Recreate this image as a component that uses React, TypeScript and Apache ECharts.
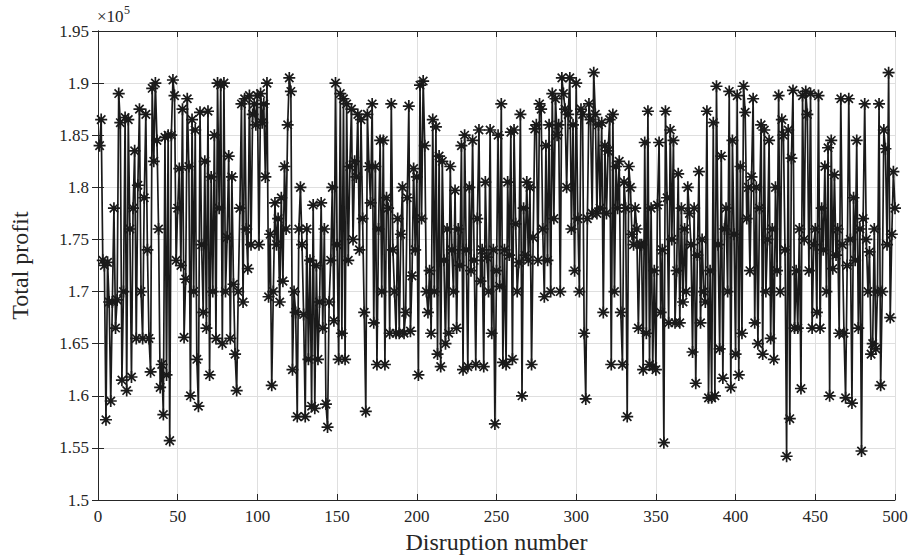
import React, { useEffect, useRef } from "react";
import * as echarts from "echarts";

// Total profit (in units of 1e5), disruption numbers 1..500
const profit001to050 = [
  1.840,1.865,1.730,1.725,1.577,1.728,1.690,1.595,1.690,1.780,
  1.665,1.692,1.890,1.862,1.615,1.700,1.867,1.605,1.865,1.760,
  1.618,1.780,1.835,1.655,1.802,1.875,1.700,1.655,1.790,1.870,
  1.740,1.655,1.623,1.895,1.825,1.900,1.845,1.760,1.608,1.630,
  1.582,1.848,1.620,1.850,1.557,1.850,1.903,1.888,1.730,1.780,
];
const profit051to100 = [
  1.818,1.725,1.875,1.656,1.712,1.885,1.820,1.600,1.865,1.700,
  1.855,1.635,1.590,1.872,1.745,1.680,1.825,1.665,1.873,1.620,
  1.810,1.700,1.850,1.655,1.900,1.780,1.898,1.650,1.900,1.700,
  1.752,1.830,1.655,1.810,1.707,1.640,1.605,1.700,1.780,1.880,
  1.690,1.885,1.760,1.722,1.888,1.745,1.870,1.880,1.860,1.888,
];
const profit101to150 = [
  1.745,1.890,1.862,1.880,1.810,1.900,1.695,1.755,1.610,1.700,
  1.785,1.745,1.770,1.690,1.790,1.710,1.820,1.760,1.860,1.905,
  1.892,1.625,1.700,1.680,1.580,1.760,1.800,1.745,1.678,1.580,
  1.760,1.635,1.730,1.590,1.783,1.588,1.725,1.635,1.690,1.785,
  1.665,1.760,1.592,1.570,1.690,1.730,1.800,1.672,1.900,1.745,
];
const profit151to200 = [
  1.635,1.890,1.660,1.885,1.635,1.880,1.730,1.820,1.875,1.750,
  1.825,1.810,1.870,1.740,1.865,1.770,1.680,1.585,1.870,1.820,
  1.785,1.880,1.670,1.820,1.630,1.760,1.845,1.700,1.845,1.630,
  1.790,1.780,1.660,1.880,1.740,1.700,1.660,1.770,1.660,1.755,
  1.800,1.660,1.680,1.790,1.878,1.662,1.715,1.818,1.740,1.810,
];
const profit201to250 = [
  1.620,1.898,1.770,1.902,1.840,1.700,1.680,1.720,1.660,1.865,
  1.700,1.858,1.640,1.830,1.628,1.825,1.730,1.650,1.760,1.660,
  1.820,1.740,1.700,1.797,1.665,1.760,1.725,1.840,1.625,1.850,
  1.740,1.628,1.800,1.720,1.845,1.730,1.630,1.770,1.855,1.710,
  1.740,1.628,1.805,1.733,1.700,1.855,1.660,1.740,1.573,1.720,
];
const profit251to300 = [
  1.850,1.705,1.880,1.632,1.740,1.630,1.805,1.735,1.853,1.635,
  1.855,1.765,1.700,1.728,1.870,1.600,1.780,1.735,1.805,1.730,
  1.800,1.630,1.752,1.856,1.860,1.730,1.880,1.875,1.760,1.695,
  1.840,1.730,1.860,1.700,1.890,1.770,1.885,1.850,1.860,1.700,
  1.905,1.890,1.875,1.800,1.870,1.905,1.760,1.860,1.720,1.900,
];
const profit301to350 = [
  1.770,1.700,1.875,1.870,1.660,1.597,1.770,1.880,1.865,1.775,
  1.910,1.870,1.775,1.860,1.780,1.862,1.680,1.840,1.775,1.835,
  1.865,1.630,1.870,1.700,1.820,1.780,1.825,1.680,1.630,1.805,
  1.780,1.580,1.820,1.800,1.755,1.745,1.780,1.760,1.665,1.745,
  1.745,1.625,1.843,1.660,1.873,1.630,1.780,1.628,1.720,1.625,
];
const profit351to400 = [
  1.783,1.843,1.680,1.740,1.555,1.873,1.790,1.670,1.855,1.750,
  1.845,1.670,1.720,1.813,1.670,1.780,1.690,1.760,1.700,1.800,
  1.775,1.745,1.642,1.780,1.612,1.735,1.815,1.670,1.750,1.700,
  1.690,1.873,1.598,1.720,1.598,1.862,1.600,1.897,1.745,1.645,
  1.830,1.617,1.760,1.780,1.700,1.892,1.608,1.845,1.755,1.640,
];
const profit401to450 = [
  1.888,1.620,1.820,1.660,1.897,1.872,1.770,1.800,1.720,1.810,
  1.885,1.670,1.800,1.650,1.780,1.860,1.640,1.855,1.700,1.750,
  1.845,1.655,1.760,1.635,1.800,1.720,1.888,1.700,1.865,1.850,
  1.740,1.542,1.855,1.578,1.828,1.893,1.665,1.720,1.665,1.760,
  1.607,1.888,1.750,1.892,1.870,1.720,1.890,1.665,1.745,1.760,
];
const profit451to500 = [
  1.680,1.888,1.665,1.780,1.740,1.820,1.700,1.838,1.600,1.845,
  1.722,1.812,1.735,1.760,1.660,1.885,1.745,1.660,1.598,1.725,
  1.885,1.750,1.593,1.790,1.730,1.845,1.665,1.760,1.547,1.770,
  1.880,1.750,1.700,1.738,1.640,1.650,1.760,1.645,1.700,1.880,
  1.610,1.700,1.855,1.837,1.745,1.910,1.675,1.755,1.815,1.780,
];

const profit = [
  ...profit001to050, ...profit051to100, ...profit101to150, ...profit151to200,
  ...profit201to250, ...profit251to300, ...profit301to350, ...profit351to400,
  ...profit401to450, ...profit451to500,
];

const xTitle = "Disruption number";
const yTitle = "Total profit";

const FONT = "Liberation Serif";
const INK = "#262626";
const asterisk = "path://M5 0L5 10M0 5L10 5M1.5 1.5L8.5 8.5M8.5 1.5L1.5 8.5";

export default function App() {
  const ref = useRef<HTMLDivElement>(null);
  useEffect(() => {
    const chart = echarts.init(ref.current!, null, { renderer: "svg" });
    const data = profit.map((v, i) => [i + 1, v]);
    const axisLine = { show: true, lineStyle: { color: INK, width: 1 } };
    const tick = { show: true, inside: true, length: 6, lineStyle: { color: INK, width: 1 } };
    chart.setOption({
      animation: false,
      backgroundColor: "#ffffff",
      grid: { left: 96, right: 24, top: 31, bottom: 58, containLabel: false },
      xAxis: [
        {
          type: "value", min: 0, max: 500, interval: 50, position: "bottom",
          axisLine, axisTick: tick,
          axisLabel: { color: INK, fontFamily: FONT, fontSize: 17, margin: 8 },
          splitLine: { show: true, lineStyle: { color: "#dfdfdf", width: 1 } },
          name: xTitle, nameLocation: "middle", nameGap: 30,
          nameTextStyle: { color: INK, fontFamily: FONT, fontSize: 24 },
        },
        {
          type: "value", min: 0, max: 500, interval: 50, position: "top",
          axisLine, axisTick: tick, axisLabel: { show: false }, splitLine: { show: false },
        },
      ],
      yAxis: [
        {
          type: "value", min: 1.5, max: 1.95, interval: 0.05, position: "left",
          axisLine, axisTick: tick,
          axisLabel: {
            color: INK, fontFamily: FONT, fontSize: 17, margin: 9,
            formatter: (v: number) => String(Number(v.toFixed(2))),
          },
          splitLine: { show: true, lineStyle: { color: "#dfdfdf", width: 1 } },
          name: yTitle, nameLocation: "middle", nameGap: 66,
          nameTextStyle: { color: INK, fontFamily: FONT, fontSize: 24 },
        },
        {
          type: "value", min: 1.5, max: 1.95, interval: 0.05, position: "right",
          axisLine, axisTick: tick, axisLabel: { show: false }, splitLine: { show: false },
        },
      ],
      graphic: [
        {
          type: "text", x: 97, y: 8,
          style: { text: "×10", fontFamily: FONT, fontSize: 17, fill: INK },
        },
        {
          type: "text", x: 124, y: 4,
          style: { text: "5", fontFamily: FONT, fontSize: 12, fill: INK },
        },
      ],
      series: [
        {
          type: "line", xAxisIndex: 0, yAxisIndex: 0, data,
          lineStyle: { color: "#1a1a1a", width: 1.7 },
          symbol: asterisk, symbolSize: 12, showSymbol: true,
          itemStyle: { color: "none", borderColor: "#1a1a1a", borderWidth: 1.7 },
          emphasis: { disabled: true },
        },
      ],
    });
    return () => chart.dispose();
  }, []);
  return (
    <div
      ref={ref}
      style={{ position: "fixed", left: 0, top: 0, width: 919, height: 559 }}
    />
  );
}
